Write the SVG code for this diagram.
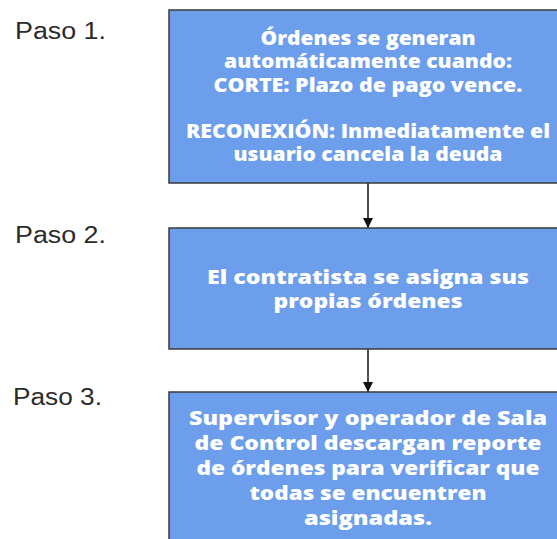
<svg xmlns="http://www.w3.org/2000/svg" width="557" height="539" viewBox="0 0 557 539">
<defs>
<style>
.box{fill:#6d9eeb;stroke:#3a3a3a;stroke-width:1.5}
.t{font-family:"Open Sans","Noto Sans",sans-serif;font-weight:800;font-size:18.5px;fill:#ffffff;text-anchor:middle}
.lbl{font-family:"Liberation Sans",Arial,sans-serif;font-size:23px;fill:#2b2b2b}
.con{stroke:#3a3a3a;stroke-width:1.8;fill:none}
</style>
<marker id="arr" viewBox="0 0 10 10" refX="10" refY="5" markerWidth="10" markerHeight="10" markerUnits="userSpaceOnUse" orient="auto">
<path d="M0,0 L10,5 L0,10 z" fill="#111"/>
</marker>
</defs>
<rect width="557" height="539" fill="#ffffff"/>
<g id="labels">
<text class="lbl" x="15" y="39" textLength="91" lengthAdjust="spacingAndGlyphs">Paso 1.</text>
<text class="lbl" x="15" y="243" textLength="91" lengthAdjust="spacingAndGlyphs">Paso 2.</text>
<text class="lbl" x="13" y="405" textLength="89" lengthAdjust="spacingAndGlyphs">Paso 3.</text>
</g>
<g id="connectors">
<line class="con" x1="368" y1="183" x2="368" y2="228" marker-end="url(#arr)"/>
<line class="con" x1="368" y1="349" x2="368" y2="392" marker-end="url(#arr)"/>
</g>
<g id="node1">
<rect class="box" x="169" y="10" width="400" height="173"/>
<text class="t" x="368" y="45" textLength="215" lengthAdjust="spacingAndGlyphs">Órdenes se generan</text>
<text class="t" x="368" y="68" textLength="288" lengthAdjust="spacingAndGlyphs">automáticamente cuando:</text>
<text class="t" x="368" y="92" textLength="309" lengthAdjust="spacingAndGlyphs">CORTE: Plazo de pago vence.</text>
<text class="t" x="368" y="138" textLength="364" lengthAdjust="spacingAndGlyphs">RECONEXIÓN: Inmediatamente el</text>
<text class="t" x="368" y="161" textLength="269" lengthAdjust="spacingAndGlyphs">usuario cancela la deuda</text>
</g>
<g id="node2">
<rect class="box" x="169" y="228" width="400" height="121"/>
<text class="t" x="368" y="284" textLength="322" lengthAdjust="spacingAndGlyphs">El contratista se asigna sus</text>
<text class="t" x="368" y="308" textLength="189" lengthAdjust="spacingAndGlyphs">propias órdenes</text>
</g>
<g id="node3">
<rect class="box" x="169" y="392" width="400" height="160"/>
<text class="t" x="368" y="425" textLength="358" lengthAdjust="spacingAndGlyphs">Supervisor y operador de Sala</text>
<text class="t" x="368" y="450" textLength="347" lengthAdjust="spacingAndGlyphs">de Control descargan reporte</text>
<text class="t" x="368" y="475" textLength="343" lengthAdjust="spacingAndGlyphs">de órdenes para verificar que</text>
<text class="t" x="368" y="500" textLength="237" lengthAdjust="spacingAndGlyphs">todas se encuentren</text>
<text class="t" x="368" y="525" textLength="128" lengthAdjust="spacingAndGlyphs">asignadas.</text>
</g>
</svg>
